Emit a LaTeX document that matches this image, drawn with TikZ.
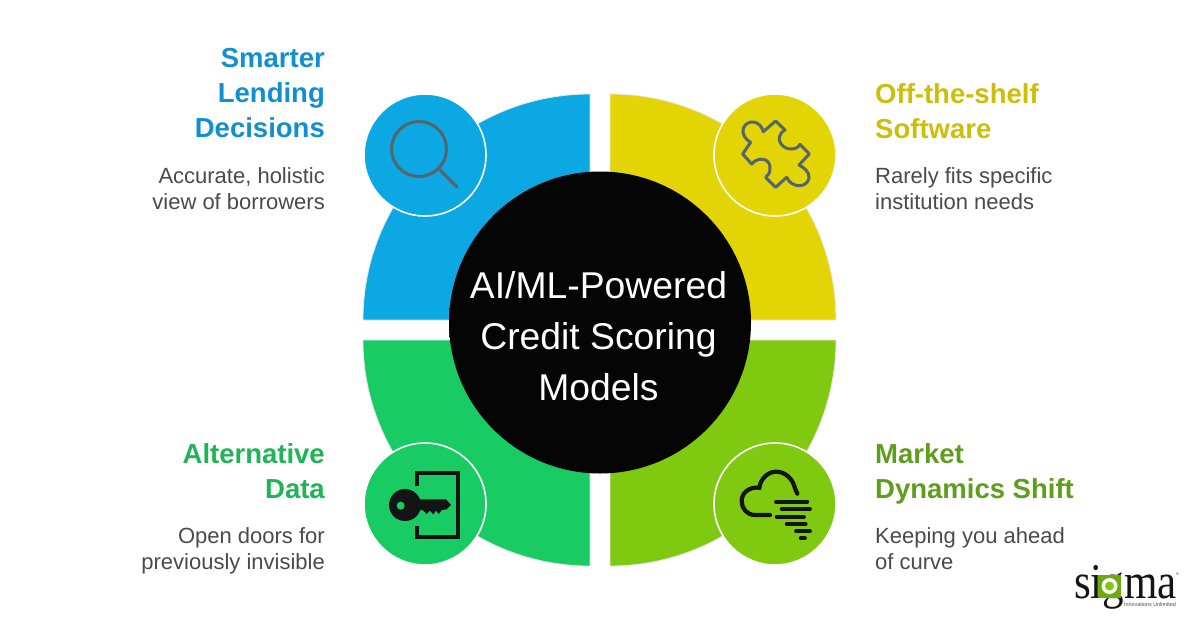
\documentclass[tikz,border=0pt]{standalone}
\usepackage{fontspec}
\setmainfont{Liberation Sans}
\newfontfamily\logofont{Liberation Serif}
\definecolor{cblue}{HTML}{0BA8E4}
\definecolor{cyellow}{HTML}{E3D505}
\definecolor{cgreen}{HTML}{18CB63}
\definecolor{clime}{HTML}{7FC911}
\definecolor{tblue}{HTML}{128FD2}
\definecolor{tyellow}{HTML}{CDBE0A}
\definecolor{tgreen}{HTML}{1FB457}
\definecolor{tlime}{HTML}{5F9E1C}
\definecolor{bodygray}{HTML}{4A4A4A}
\definecolor{icongray}{HTML}{56646C}
\definecolor{rimgray}{HTML}{E6E6E6}
\definecolor{inkblack}{HTML}{141414}
\pgfdeclareradialshading{rimshade}{\pgfpoint{0bp}{0bp}}{rgb(0bp)=(0.02,0.02,0.02);rgb(44.5bp)=(0.02,0.02,0.02);rgb(48.6bp)=(0.27,0.27,0.27);rgb(50bp)=(0,0,0);rgb(60bp)=(0,0,0)}
\tikzset{
  quad/.style={fill=#1,draw=rimgray,line width=0.8pt},
  iconbg/.style={circle,minimum size=122pt,inner sep=0pt,fill=#1,draw=white,line width=1.6pt},
  head/.style={font=\fontsize{27.5}{35}\selectfont\bfseries,text=#1,inner sep=0pt},
  headL/.style={head=#1,align=right,anchor=north east},
  headR/.style={head=#1,align=left,anchor=north west},
  bodyL/.style={font=\fontsize{22}{26.5}\selectfont,text=bodygray,inner sep=0pt,align=right,anchor=north east},
  bodyR/.style={font=\fontsize{22}{26.5}\selectfont,text=bodygray,inner sep=0pt,align=left,anchor=north west},
  thinicon/.style={draw=icongray,line width=3pt},
  inkicon/.style={draw=inkblack,line width=4.2pt},
  bar/.style={draw=inkblack,line width=3.8pt,line cap=round},
}
\begin{document}
\begin{tikzpicture}[x=1pt,y=-1pt]
\useasboundingbox (0,0) rectangle (1200,627);
\fill[white] (0,0) rectangle (1200,627);
% quadrants
\draw[quad=cblue] (590,320) -- (363,320) .. controls (363,195.2) and (465.2,94) .. (590,94) -- cycle;
\draw[quad=cyellow] (610,320) -- (610,94) .. controls (734.8,94) and (836,195.2) .. (836,320) -- cycle;
\draw[quad=cgreen] (590,340) -- (363,340) .. controls (363,464.8) and (465.2,566) .. (590,566) -- cycle;
\draw[quad=clime] (610,340) -- (610,566) .. controls (734.8,566) and (836,464.8) .. (836,340) -- cycle;
% icon discs
\node[iconbg=cblue] (disca) at (425,155) {};
\node[iconbg=cyellow] (discb) at (775,155) {};
\node[iconbg=cgreen] (discc) at (425,504) {};
\node[iconbg=clime] (discd) at (775,504) {};
% centre
\node[circle,minimum size=302pt,inner sep=0pt,shading=rimshade] (hub) at (600,322.5) {};
\node[font=\fontsize{37.3}{51}\selectfont,text=white,align=center,inner sep=0pt] (hubtext) at (598.5,336) {AI/ML-Powered\\Credit Scoring\\Models};
% magnifier
\draw[thinicon] (419,149) circle[radius=27.5pt];
\draw[thinicon,line cap=round] (439.3,169.3) -- (457,187);
% puzzle
\begin{scope}[shift={(600,80)},x=0.3333pt,y=-0.3333pt]
\draw[thinicon,line join=round] (490,155) .. controls (480,118) and (440,118) .. (430,145) .. controls (424,165) and (440,180) .. (452,187) -- (428,222) -- (455,252) .. controls (475,228) and (512,235) .. (510,265) .. controls (510,280) and (505,285) .. (497,292) -- (527,322) -- (560,292) .. controls (575,325) and (620,325) .. (627,295) .. controls (630,275) and (610,262) .. (597,255) -- (628,222) -- (600,193) .. controls (590,215) and (545,212) .. (538,180) .. controls (537,165) and (545,155) .. (555,150) -- (527,123) -- cycle;
\end{scope}
% key and door
\begin{scope}[shift={(340,420)},x=0.3333pt,y=-0.3333pt]
\draw[inkicon] (232,197) -- (232,160) -- (355,160) -- (355,352) -- (232,352) -- (232,318);
\fill[inkblack] (195,255) circle[radius=16pt];
\fill[inkblack] (225,238) -- (318,238) -- (333,255) -- (320,268) -- (305,270) -- (297,282) -- (288,272) -- (280,283) -- (270,272) -- (260,282) -- (248,270) -- (225,272) -- cycle;
\fill[cgreen] (182,257) circle[radius=4pt];
\end{scope}
% cloud and wind
\begin{scope}[shift={(690,420)},x=0.3333pt,y=-0.3333pt]
\draw[inkicon,line cap=round] (240,285) -- (195,285) .. controls (170,285) and (155,265) .. (155,243) .. controls (155,220) and (175,200) .. (208,203) .. controls (212,175) and (235,155) .. (258,155) .. controls (285,155) and (308,175) .. (315,205) -- (322,221);
\draw[bar] (258,245) -- (352,245);
\draw[bar] (275,267) -- (360,267);
\draw[bar] (260,290) -- (342,290);
\draw[bar] (290,312) -- (347,312);
\draw[bar] (318,333) -- (360,333);
\draw[bar] (332,355) -- (345,355);
\end{scope}
% left texts
\node[headL=tblue] (ta) at (325,48) {Smarter\\Lending\\Decisions};
\node[bodyL] (ba) at (325,167) {Accurate, holistic\\view of borrowers};
\node[headL=tgreen] (tc) at (325,443) {Alternative\\Data};
\node[bodyL] (bc) at (325,527) {Open doors for\\previously invisible};
% right texts
\node[headR=tyellow] (tb) at (875,83) {Off-the-shelf\\Software};
\node[bodyR] (bb) at (875,167) {Rarely fits specific\\institution needs};
\node[headR=tlime] (td) at (875,443) {Market\\Dynamics Shift};
\node[bodyR] (bd) at (875,527) {Keeping you ahead\\of curve};
% logo
\node[anchor=base west,inner sep=0pt,xscale=0.86,text=inkblack] (logo) at (1074,598) {\logofont\fontsize{50}{50}\selectfont\smash{sigma}};
\fill[clime!85!black] (1098,575) rectangle (1121,598);
\fill[white] (1109.5,586) circle[radius=8pt];
\fill[clime] (1109.5,586) circle[radius=4.5pt];
\node[anchor=base east,inner sep=0pt,font=\fontsize{5.4}{6}\selectfont,text=bodygray] (logosub) at (1176,606) {Innovations Unlimited};
\node[anchor=base west,inner sep=0pt,font=\fontsize{4}{4}\selectfont,text=bodygray] (logomark) at (1176,575) {®};
\end{tikzpicture}
\end{document}
